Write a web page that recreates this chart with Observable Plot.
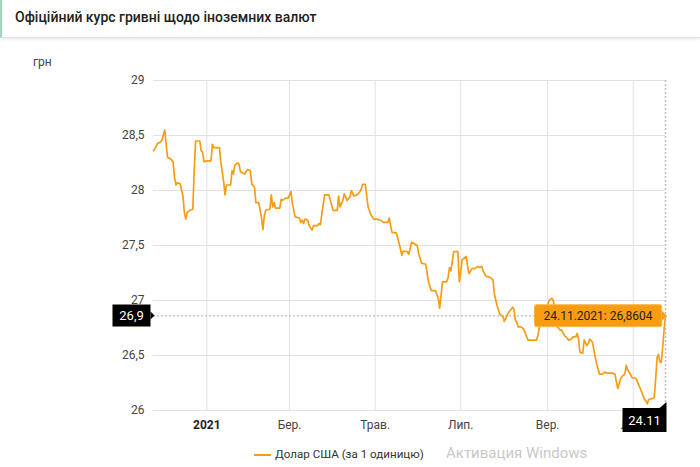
<!DOCTYPE html>
<html>
<head>
<meta charset="utf-8">
<script src="https://cdn.jsdelivr.net/npm/d3@7"></script>
<script src="https://cdn.jsdelivr.net/npm/@observablehq/plot@0.6"></script>
<style>
  html, body { margin: 0; padding: 0; }
  body { width: 700px; height: 467px; overflow: hidden; background: #fff; position: relative; font-family: Roboto, "Noto Sans", sans-serif; }
  #hdr { position: absolute; left: 0; top: 0; width: 700px; height: 38px; box-sizing: border-box;
         border-left: 2px solid #9fd8b9; border-bottom: 1px solid #e2e2e2; box-shadow: 0 1px 3px rgba(0,0,0,0.10); background: #fff; }
  #title { position: absolute; left: 13px; top: 9px; font-size: 14px; font-weight: 500; color: #222; white-space: nowrap; }
  #unit { position: absolute; left: 33px; top: 55px; font-size: 12px; color: #444; }
  #chart { position: absolute; left: 0; top: 40px; }
  #sw { position: absolute; left: 254px; top: 454px; width: 17px; height: 2px; background: #f89c14; }
  #legtext { position: absolute; left: 275px; top: 447px; font-size: 11.6px; color: #333; white-space: nowrap; }
  #wm { position: absolute; left: 446px; top: 444px; font-size: 15px; color: #c9c9c9; white-space: nowrap; }
</style>
</head>
<body>
<div id="hdr"><div id="title">Офіційний курс гривні щодо іноземних валют</div></div>
<div id="unit">грн</div>
<div id="chart"></div>
<div id="sw"></div>
<div id="legtext">Долар США (за 1 одиницю)</div>
<div id="wm">Активация Windows</div>
<script>
const seriesName = "Долар США (за 1 одиницю)";

const dates = [
"2020-11-24","2020-11-25","2020-11-27","2020-11-29","2020-11-30","2020-12-02","2020-12-04","2020-12-06","2020-12-08","2020-12-09",
"2020-12-10","2020-12-11","2020-12-13","2020-12-15","2020-12-16","2020-12-17","2020-12-18","2020-12-20","2020-12-22","2020-12-23",
"2020-12-24","2020-12-27","2020-12-28","2020-12-29","2020-12-30","2021-01-01","2021-01-04","2021-01-05","2021-01-06","2021-01-10",
"2021-01-11","2021-01-13","2021-01-14","2021-01-15","2021-01-18","2021-01-19","2021-01-20","2021-01-21","2021-01-23","2021-01-24",
"2021-01-25","2021-01-28","2021-01-30","2021-02-01","2021-02-02","2021-02-04","2021-02-05","2021-02-07","2021-02-09","2021-02-10",
"2021-02-11","2021-02-12","2021-02-15","2021-02-16","2021-02-17","2021-02-18","2021-02-19","2021-02-22","2021-02-23","2021-02-24",
"2021-02-26","2021-02-28","2021-03-02","2021-03-03","2021-03-05","2021-03-08","2021-03-09","2021-03-10","2021-03-11","2021-03-12",
"2021-03-14","2021-03-15","2021-03-17","2021-03-18","2021-03-21","2021-03-22","2021-03-23","2021-03-24","2021-03-26","2021-03-29",
"2021-04-01","2021-04-04","2021-04-05","2021-04-06","2021-04-08","2021-04-09","2021-04-11","2021-04-13","2021-04-14","2021-04-16",
"2021-04-18","2021-04-20","2021-04-21","2021-04-22","2021-04-24","2021-04-25","2021-04-26","2021-04-28","2021-04-30","2021-05-02",
"2021-05-05","2021-05-07","2021-05-10","2021-05-11","2021-05-13","2021-05-16","2021-05-17","2021-05-19","2021-05-20","2021-05-21",
"2021-05-24","2021-05-25","2021-05-27","2021-05-29","2021-05-31","2021-06-01","2021-06-03","2021-06-06","2021-06-07","2021-06-08",
"2021-06-10","2021-06-13","2021-06-15","2021-06-16","2021-06-17","2021-06-18","2021-06-21","2021-06-22","2021-06-23","2021-06-24",
"2021-06-26","2021-06-29","2021-06-30","2021-07-01","2021-07-02","2021-07-05","2021-07-06","2021-07-07","2021-07-09","2021-07-11",
"2021-07-13","2021-07-14","2021-07-16","2021-07-17","2021-07-19","2021-07-22","2021-07-24","2021-07-25","2021-07-27","2021-07-29",
"2021-07-31","2021-08-01","2021-08-03","2021-08-04","2021-08-06","2021-08-07","2021-08-08","2021-08-09","2021-08-10","2021-08-11",
"2021-08-13","2021-08-15","2021-08-17","2021-08-18","2021-08-21","2021-08-24","2021-08-25","2021-08-26","2021-08-28","2021-08-31",
"2021-09-02","2021-09-04","2021-09-05","2021-09-07","2021-09-08","2021-09-10","2021-09-11","2021-09-13","2021-09-14","2021-09-16",
"2021-09-18","2021-09-19","2021-09-21","2021-09-22","2021-09-23","2021-09-24","2021-09-26","2021-09-27","2021-09-29","2021-09-30",
"2021-10-01","2021-10-03","2021-10-04","2021-10-06","2021-10-08","2021-10-10","2021-10-12","2021-10-13","2021-10-17","2021-10-19",
"2021-10-20","2021-10-21","2021-10-23","2021-10-24","2021-10-26","2021-10-27","2021-10-28","2021-10-30","2021-10-31","2021-11-03",
"2021-11-04","2021-11-06","2021-11-07","2021-11-09","2021-11-10","2021-11-11","2021-11-12","2021-11-15","2021-11-16","2021-11-17",
"2021-11-18","2021-11-19","2021-11-20","2021-11-21","2021-11-22","2021-11-23","2021-11-24"
];

const values = [
28.36,28.38,28.43,28.44,28.46,28.55,28.30,28.29,28.26,28.12,
28.05,28.07,28.06,27.95,27.80,27.74,27.80,27.82,27.83,28.17,
28.45,28.45,28.36,28.35,28.26,28.27,28.27,28.42,28.39,28.39,
28.26,28.08,27.96,28.05,28.05,28.18,28.15,28.23,28.25,28.24,
28.17,28.15,28.19,28.18,28.06,28.03,27.89,27.89,27.75,27.645,
27.77,27.82,27.83,27.96,27.85,27.89,27.84,27.84,27.92,27.91,
27.93,27.93,27.99,27.88,27.76,27.75,27.71,27.73,27.70,27.74,
27.73,27.68,27.64,27.68,27.68,27.70,27.69,27.79,27.96,27.96,
27.82,27.82,27.95,27.85,27.91,27.97,27.91,27.94,28.00,27.95,
27.96,27.985,28.01,28.055,28.055,27.95,27.85,27.78,27.74,27.74,
27.73,27.71,27.71,27.75,27.62,27.615,27.575,27.47,27.41,27.45,
27.445,27.42,27.53,27.515,27.50,27.43,27.34,27.33,27.26,27.17,
27.09,27.09,27.02,26.93,27.045,27.17,27.17,27.21,27.30,27.27,
27.445,27.445,27.17,27.26,27.37,27.40,27.30,27.245,27.29,27.29,
27.31,27.30,27.31,27.27,27.22,27.21,27.19,27.06,26.95,26.87,
26.86,26.81,26.86,26.89,26.92,26.94,26.92,26.82,26.80,26.76,
26.76,26.74,26.67,26.64,26.64,26.64,26.68,26.75,26.86,26.92,
27.00,27.02,27.00,26.85,26.76,26.73,26.73,26.68,26.67,26.64,
26.65,26.67,26.67,26.70,26.65,26.53,26.52,26.64,26.59,26.61,
26.65,26.62,26.545,26.42,26.33,26.33,26.35,26.34,26.34,26.33,
26.26,26.20,26.29,26.31,26.33,26.41,26.37,26.33,26.30,26.29,
26.26,26.20,26.17,26.10,26.09,26.06,26.10,26.11,26.12,26.29,
26.48,26.51,26.44,26.44,26.575,26.73,26.8604
];

const yTicks = [26, 26.5, 27, 27.5, 28, 28.5, 29];
const xTickDates = ["2021-01-01","2021-03-01","2021-05-01","2021-07-01","2021-09-01","2021-11-01"];
const xTickLabels = ["2021","Бер.","Трав.","Лип.","Вер.","Лис."];

const rows = dates.map((d, i) => ({date: new Date(d), value: values[i]}));
const last = rows[rows.length - 1];
const xTicks = xTickDates.map(d => new Date(d));
const labelOf = new Map(xTickDates.map((d, i) => [d, xTickLabels[i]]));
const comma = s => String(s).replace(".", ",");
const orange = "#f89c14";

const tipText = `${d3.utcFormat("%d.%m.%Y")(last.date)}: ${comma(last.value.toFixed(4))}`;
const yBoxText = comma(last.value.toFixed(1));
const xBoxText = d3.utcFormat("%d.%m")(last.date);

const chart = Plot.plot({
  width: 700,
  height: 400,
  marginTop: 40,
  marginBottom: 30,
  marginLeft: 153,
  marginRight: 35,
  style: {fontFamily: "Roboto, 'Noto Sans', sans-serif", background: "transparent", overflow: "visible"},
  x: {type: "utc", domain: [rows[0].date, last.date], label: null},
  y: {domain: [26, 29], label: null},
  marks: [
    Plot.gridY(yTicks, {stroke: "#e2e2e2", strokeOpacity: 1}),
    Plot.gridX(xTicks, {stroke: "#e2e2e2", strokeOpacity: 1}),
    Plot.ruleY([last.value], {stroke: "#aaa", strokeDasharray: "2,2"}),
    Plot.lineY(rows, {x: "date", y: "value", stroke: orange, strokeWidth: 1.7}),
    Plot.ruleX([last.date], {stroke: "#bdbdbd", strokeWidth: 1.5, strokeDasharray: "2,2"}),
    Plot.axisY(yTicks, {label: null, tickSize: 0, tickPadding: 9, fontSize: 12, fill: "#444", tickFormat: d => comma(d)}),
    Plot.axisX(xTicks.slice(1), {label: null, tickSize: 0, tickPadding: 10, fontSize: 12, fill: "#444",
      tickFormat: d => labelOf.get(d.toISOString().slice(0, 10))}),
    Plot.axisX(xTicks.slice(0, 1), {label: null, tickSize: 0, tickPadding: 10, fontSize: 12, fill: "#222", fontWeight: "bold",
      tickFormat: d => labelOf.get(d.toISOString().slice(0, 10))}),
    Plot.text([last], {x: "date", y: "value", dx: -13, textAnchor: "end", fontSize: 12, fill: "#222",
      text: () => tipText}),
    Plot.text([last.value], {y: d => d, frameAnchor: "left", dx: -22, textAnchor: "middle", fontSize: 13, fill: "#fff",
      text: () => yBoxText}),
    Plot.text([last.date], {x: d => d, frameAnchor: "bottom", dx: -21, dy: 14, textAnchor: "middle", fontSize: 13, fill: "#fff",
      text: () => xBoxText})
  ]
});

document.getElementById("chart").appendChild(chart);

function boxify(content, opt) {
  d3.select(chart).selectAll("text").filter(function() { return this.textContent === content; }).each(function() {
    const bb = this.getBBox();
    const cx = bb.x + bb.width / 2, cy = bb.y + bb.height / 2;
    const w = opt.w != null ? opt.w : bb.width + 2 * opt.padX;
    const h = opt.h;
    const x0 = cx - w / 2, y0 = cy - h / 2;
    const tr = this.getAttribute("transform");
    const parent = this.parentNode;
    const ns = "http://www.w3.org/2000/svg";
    const rect = document.createElementNS(ns, "rect");
    rect.setAttribute("x", x0); rect.setAttribute("y", y0);
    rect.setAttribute("width", w); rect.setAttribute("height", h);
    rect.setAttribute("rx", opt.rx || 0);
    rect.setAttribute("fill", opt.fill);
    if (opt.stroke) { rect.setAttribute("stroke", opt.stroke); rect.setAttribute("stroke-width", 1); }
    if (tr) rect.setAttribute("transform", tr);
    parent.insertBefore(rect, this);
    const path = document.createElementNS(ns, "path");
    path.setAttribute("d", opt.pointer(x0, y0, w, h));
    path.setAttribute("fill", opt.fill);
    if (tr) path.setAttribute("transform", tr);
    parent.insertBefore(path, this);
  });
}

boxify(tipText, {padX: 9, h: 22, rx: 2, fill: "#f89d12", stroke: "#fbb84a",
  pointer: (x, y, w, h) => `M${x + w},${y + h / 2 - 5}L${x + w + 5},${y + h / 2}L${x + w},${y + h / 2 + 5}Z`});
boxify(yBoxText, {w: 38, h: 22, fill: "#000",
  pointer: (x, y, w, h) => `M${x + w},${y + h / 2 - 4}L${x + w + 4},${y + h / 2}L${x + w},${y + h / 2 + 4}Z`});
boxify(xBoxText, {w: 44, h: 24, fill: "#000",
  pointer: (x, y, w, h) => `M${x + w - 7},${y}L${x + w},${y}L${x + w},${y - 6}Z`});
</script>
</body>
</html>
